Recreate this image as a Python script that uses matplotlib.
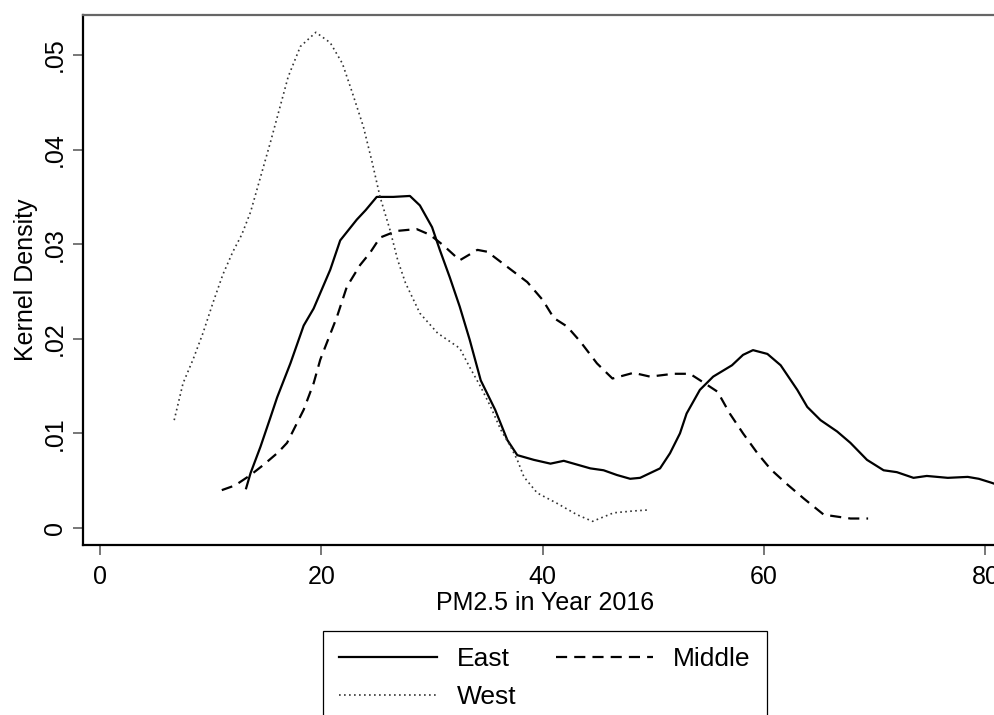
import matplotlib
matplotlib.use("Agg")
import matplotlib.pyplot as plt

plt.rcParams['font.family'] = ['Liberation Sans', 'DejaVu Sans']

# ---- data ----
east_x = [13.2, 13.6, 14.5, 15.4, 16.0, 17.2, 18.4, 19.3, 20.8, 21.7, 23.2, 24.0, 25.0, 26.5, 28.0,
          28.9, 30.0, 30.7, 31.6, 32.5, 33.4, 34.4, 35.7, 36.8, 37.7, 39.2, 40.7, 41.9, 42.8, 44.3,
          45.5, 46.7, 47.9, 48.8, 50.6, 51.5, 52.4, 53.0, 54.2, 55.4, 57.1, 58.1, 59.0, 60.3, 61.5,
          63.0, 63.9, 65.1, 66.6, 67.8, 69.3, 70.8, 72.0, 73.5, 74.7, 76.6, 78.4, 79.4, 80.5, 81.5]
east_y = [0.0042, 0.0058, 0.0086, 0.0117, 0.0138, 0.0174, 0.0214, 0.0232, 0.0273, 0.0304,
          0.0326, 0.0336, 0.0350, 0.0350, 0.0351, 0.0341, 0.0318, 0.0294, 0.0265, 0.0234,
          0.0199, 0.0156, 0.0125, 0.0093, 0.0077, 0.0072, 0.0068, 0.0071, 0.0068, 0.0063,
          0.0061, 0.0056, 0.0052, 0.0053, 0.0063, 0.0079, 0.0100, 0.0121, 0.0146, 0.0160,
          0.0172, 0.0183, 0.0188, 0.0184, 0.0172, 0.0146, 0.0128, 0.0114, 0.0102, 0.0090,
          0.0072, 0.0061, 0.0059, 0.0053, 0.0055, 0.0053, 0.0054, 0.0052, 0.0048, 0.0044]

middle_x = [11.0, 12.2, 13.6, 14.8, 16.1, 16.9, 17.8, 18.4, 19.3, 19.9, 20.5, 21.4, 22.3, 23.5, 24.4,
            25.3, 26.8, 28.6, 29.8, 31.0, 32.5, 34.1, 35.0, 36.8, 38.6, 40.0, 41.0, 42.2, 43.4, 44.9,
            46.3, 48.2, 49.7, 51.8, 53.3, 54.5, 55.8, 56.9, 58.1, 59.4, 60.6, 62.1, 63.6, 65.4, 66.6,
            67.8, 69.4]
middle_y = [0.0040, 0.0045, 0.0056, 0.0067, 0.0080, 0.0090, 0.0111, 0.0125, 0.0153, 0.0178,
            0.0196, 0.0223, 0.0255, 0.0278, 0.0291, 0.0307, 0.0314, 0.0316, 0.0310, 0.0299,
            0.0283, 0.0294, 0.0292, 0.0276, 0.0260, 0.0241, 0.0222, 0.0213, 0.0197, 0.0174,
            0.0158, 0.0164, 0.0160, 0.0163, 0.0163, 0.0154, 0.0144, 0.0121, 0.0100, 0.0079,
            0.0062, 0.0046, 0.0031, 0.0014, 0.0012, 0.0010, 0.0010]

west_x = [6.7, 7.5, 8.4, 9.3, 10.2, 11.1, 12.0, 12.8, 13.6, 15.4, 17.0, 18.1, 19.5, 20.8, 21.9,
          22.8, 23.8, 24.6, 25.3, 26.2, 26.9, 27.6, 28.9, 30.5, 32.5, 33.4, 34.4, 35.3, 36.2, 37.1,
          37.7, 38.3, 39.5, 41.3, 43.1, 44.5, 46.4, 48.2, 49.5]
west_y = [0.0114, 0.0153, 0.0178, 0.0206, 0.0238, 0.0268, 0.0292, 0.0310, 0.0334, 0.0408,
          0.0477, 0.0509, 0.0524, 0.0513, 0.0491, 0.0460, 0.0424, 0.0386, 0.0350, 0.0315,
          0.0283, 0.0259, 0.0227, 0.0206, 0.0190, 0.0170, 0.0149, 0.0128, 0.0104, 0.0086,
          0.0072, 0.0054, 0.0037, 0.0026, 0.0014, 0.0007, 0.0016, 0.0018, 0.0019]

x_ticks = [0, 20, 40, 60, 80]
x_ticklabels = ['0', '20', '40', '60', '80']
y_ticks = [0, 0.01, 0.02, 0.03, 0.04, 0.05]
y_ticklabels = ['0', '.01', '.02', '.03', '.04', '.05']
series_labels = ['East', 'Middle', 'West']
x_title = 'PM2.5 in Year 2016'
y_title = 'Kernel Density'

# ---- figure ----
W, H = 995, 715
fig = plt.figure(figsize=(W / 100, H / 100), dpi=100)
ax = fig.add_axes([83 / W, (H - 545) / H, 924 / W, 530 / H])

l_east, = ax.plot(east_x, east_y, color='black', lw=1.6, solid_joinstyle='round')
l_mid, = ax.plot(middle_x, middle_y, color='black', lw=1.6, dashes=(5, 3.2))
l_west, = ax.plot(west_x, west_y, color='#333333', lw=1.2, linestyle=(0, (1, 2)))

ax.set_xlim(-1.54, 81.95)
ax.set_ylim(-0.0018, 0.05423)

ax.set_xticks(x_ticks)
ax.set_xticklabels(x_ticklabels)
ax.set_yticks(y_ticks)
ax.set_yticklabels(y_ticklabels, rotation=90, va='center')

ax.tick_params(axis='both', which='major', length=7.5, width=1.4, color='#777777',
               labelsize=18, labelcolor='black')
ax.tick_params(axis='x', pad=7)
ax.tick_params(axis='y', pad=4)

for side in ['left', 'bottom']:
    ax.spines[side].set_color('black')
    ax.spines[side].set_linewidth(1.6)
for side in ['top', 'right']:
    ax.spines[side].set_color('#666666')
    ax.spines[side].set_linewidth(1.6)

ax.set_xlabel(x_title, fontsize=18, labelpad=1.5)
ax.set_ylabel(y_title, fontsize=18, labelpad=3.5)

leg = ax.legend([l_east, l_west, l_mid], [series_labels[0], series_labels[2], series_labels[1]],
                ncol=2, loc='upper center', bbox_to_anchor=(545 / W, 1 - 631 / H),
                bbox_transform=fig.transFigure, borderaxespad=0, frameon=True, fancybox=False,
                edgecolor='black', framealpha=1, fontsize=19, borderpad=0.6,
                handlelength=3.7, handletextpad=0.75, columnspacing=1.5, labelspacing=0.55)
leg.get_frame().set_linewidth(0.9)

fig.savefig('out.png', dpi=100)
